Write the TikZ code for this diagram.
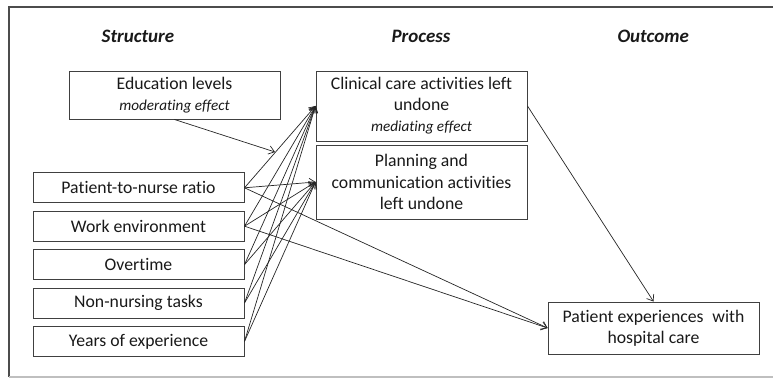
\documentclass[tikz,border=0pt]{standalone}
\usepackage{fontspec}
\setmainfont{Carlito}[Ligatures=NoCommon]
\usetikzlibrary{arrows.meta}

\tikzset{
	factor/.style={draw=black!75, line width=0.7pt, minimum width=5.275cm, minimum height=0.75cm,
		align=center, inner sep=2pt, text=black!90, font=\fontsize{12.6}{15}\selectfont},
	header/.style={text=black!90, font=\fontsize{13.5}{15}\selectfont\bfseries\itshape},
	link/.style={-{Straight Barb[length=4pt,width=6pt]}, line width=0.5pt, black!85},
}
\newcommand{\effect}[1]{{\fontsize{10.8}{12}\selectfont\itshape #1}}

\begin{document}
\begin{tikzpicture}
	\useasboundingbox (0,0) rectangle (19.325,9.475);
	% frame
	\draw[black!70, line width=0.8pt] (0.225,0.05) -- (0.225,9.3) -- (19.325,9.3);
	\draw[black!25, line width=0.8pt] (0.225,0.05) -- (19.325,0.05);

	\node[header] (hstruct) at (3.45,8.575) {Structure};
	\node[header] (hproc) at (10.525,8.575) {Process};
	\node[header] (hout) at (16.33,8.575) {Outcome};

	% structure
	\node[factor, minimum height=1.2cm] (edu) at (4.3625,7.1) {Education levels\\\effect{moderating effect}};
	\node[factor] (ratio) at (3.4625,4.78) {Patient-to-nurse ratio};
	\node[factor] (work) at (3.4625,3.82) {Work environment};
	\node[factor] (overtime) at (3.4625,2.86) {Overtime};
	\node[factor] (tasks) at (3.4625,1.9) {Non-nursing tasks};
	\node[factor] (years) at (3.4625,0.94) {Years of experience};

	% process
	\node[factor, minimum height=1.75cm] (clin) at (10.5375,6.825) {Clinical care activities left\\undone\\\effect{mediating effect}};
	\node[factor, minimum height=1.85cm] (plan) at (10.5375,4.925) {Planning and\\communication activities\\left undone};

	% outcome
	\node[factor, minimum height=1.3cm] (outc) at (16.3375,1.275) {Patient experiences\enspace with\\hospital care};

	\coordinate (mod) at (6.875,5.675);
	\draw[link] (edu.south) -- (mod);

	\draw[link] (ratio.east) -- (clin.west);
	\draw[link] (ratio.east) -- (plan.west);
	\draw[link] (ratio.east) -- (outc.west);
	\draw[link] (work.east) -- (clin.west);
	\draw[link] (work.east) -- (plan.west);
	\draw[link] (work.east) -- (outc.west);
	\draw[link] (overtime.east) -- (clin.west);
	\draw[link] (overtime.east) -- (plan.west);
	\draw[link] (tasks.east) -- (clin.west);
	\draw[link] (tasks.east) -- (plan.west);
	\draw[link] (years.east) -- (clin.west);
	\draw[link] (years.east) -- (plan.west);

	\draw[link] (clin.east) -- (outc.north);
\end{tikzpicture}
\end{document}
